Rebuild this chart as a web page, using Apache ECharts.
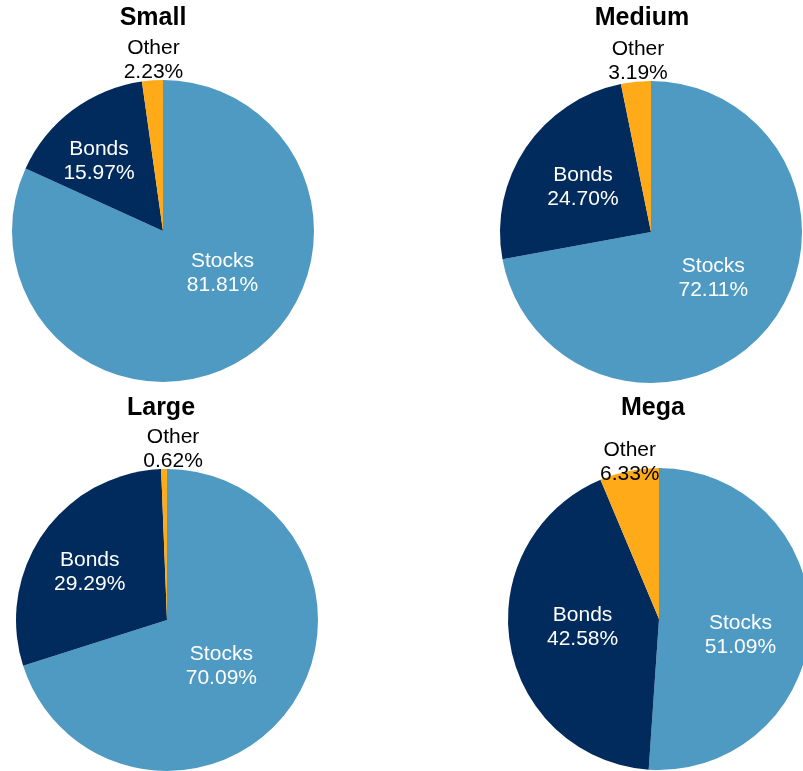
<!DOCTYPE html>
<html>
<head>
<meta charset="utf-8">
<script src="https://cdn.jsdelivr.net/npm/echarts@6/dist/echarts.min.js"></script>
<style>
  html, body { margin: 0; padding: 0; background: #fff; }
  #chart { width: 803px; height: 771px; }
</style>
</head>
<body>
<div id="chart"></div>
<script>
// 数据
const groups = ['Small', 'Medium', 'Large', 'Mega']
const assetClasses = ['Stocks', 'Bonds', 'Other']
const stocks = [81.81, 72.11, 70.09, 51.09]
const bonds = [15.97, 24.70, 29.29, 42.58]
const other = [2.23, 3.19, 0.62, 6.33]

const colors = ['#4E9AC2', '#002B5C', '#FEAA19']
// 每个饼图的位置 (px)
const centers = [[163, 231], [651, 232], [167, 620], [659, 619]]
const titlePos = [[153, 6], [642, 6], [161, 396], [653, 396]]
// 标签微调 [Stocks, Bonds, Other]
const labelShift = [
  [[17, -24], [-17, -7], [1, 0]],
  [[2, -4], [-3, -1], [2, 0]],
  [[-9, 0], [-13, -3], [9, 0]],
  [[3, 14], [1, -5], [0, 14]]
]
const R = 151

const chart = echarts.init(document.getElementById('chart'))

const series = groups.map((g, i) => {
  const vals = [stocks[i], bonds[i], other[i]]
  return {
    name: g,
    type: 'pie',
    radius: R,
    center: centers[i],
    startAngle: 90,
    clockwise: true,
    avoidLabelOverlap: false,
    silent: true,
    itemStyle: { borderWidth: 0 },
    label: {
      show: true,
      position: 'inside',
      color: '#fff',
      fontFamily: 'Liberation Sans',
      fontSize: 21,
      lineHeight: 24,
      formatter: (p) => p.name + '\n' + p.value.toFixed(2) + '%'
    },
    labelLine: { show: false },
    labelLayout: (p) => {
      const s = labelShift[i][p.dataIndex]
      if (p.dataIndex !== 2) return { dx: s[0], dy: s[1] }
      return {
        x: p.rect.x + p.rect.width / 2 + s[0],
        y: p.rect.y + 4 + s[1],
        align: 'center',
        verticalAlign: 'bottom'
      }
    },
    data: assetClasses.map((n, k) => ({
      name: n,
      value: vals[k],
      itemStyle: { color: colors[k] },
      label: k === 2 ? { color: '#000' } : {}
    }))
  }
})

chart.setOption({
  animation: false,
  title: groups.map((g, i) => ({
    text: g,
    left: titlePos[i][0],
    top: titlePos[i][1],
    textAlign: 'center',
    padding: 0,
    textStyle: { fontFamily: 'Liberation Sans', fontWeight: 'bold', fontSize: 25, color: '#000' }
  })),
  series: series
})
</script>
</body>
</html>
